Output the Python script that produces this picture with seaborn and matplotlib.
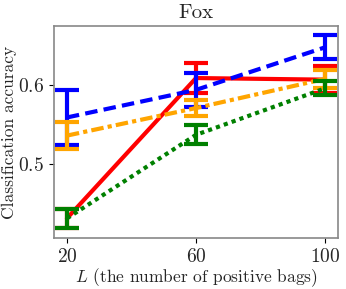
import numpy as np
import pandas as pd
import matplotlib
matplotlib.use('Agg')
import matplotlib.pyplot as plt
import seaborn as sns

# Values
bags = [20, 60, 100]
blue_mean = [0.559, 0.594, 0.648]
blue_err = [0.035, 0.022, 0.015]
orange_mean = [0.536, 0.571, 0.608]
orange_err = [0.017, 0.010, 0.011]
red_mean = [0.431, 0.609, 0.607]
red_err = [0.012, 0.019, 0.017]
green_mean = [0.431, 0.537, 0.596]
green_err = [0.012, 0.012, 0.009]

# drawing order follows the overlaps seen in the reference
series = [
    ('red', red_mean, red_err, 'red', '-'),
    ('blue', blue_mean, blue_err, 'blue', (0, (3, 1.5))),
    ('orange', orange_mean, orange_err, 'orange', (0, (3, 1, 1, 1))),
    ('green', green_mean, green_err, 'green', (0, (1, 1))),
]

sns.set_style('white')
plt.rcParams['font.family'] = ['cmr10', 'DejaVu Serif']
plt.rcParams['mathtext.fontset'] = 'cm'
plt.rcParams['axes.formatter.use_mathtext'] = True
plt.rcParams['axes.edgecolor'] = '#888888'

fig, ax = plt.subplots(figsize=(3.46, 2.89), dpi=100)

for name, mean, err, color, ls in series:
    df = pd.DataFrame({'L': bags, 'acc': mean})
    sns.lineplot(data=df, x='L', y='acc', color=color, linewidth=3, linestyle=ls, ax=ax)
    ax.errorbar(bags, mean, yerr=err, fmt='none', ecolor=color, elinewidth=3,
                capsize=8.5, capthick=3)

ax.set_xticks([20, 60, 100])
ax.set_yticks([0.5, 0.6])
ax.set_ylim(0.406, 0.675)
ax.tick_params(axis='both', which='both', bottom=True, left=True, labelsize=14,
               length=3.5, width=0.8, color='black')
for s in ax.spines.values():
    s.set_linewidth(1.2)
ax.set_title('Fox', fontsize=15)
ax.set_xlabel(r'$L$ (the number of positive bags)', fontsize=12.5, labelpad=0.5)
ax.set_ylabel('Classification accuracy', fontsize=12.5, labelpad=0.5)

fig.subplots_adjust(left=0.156, right=0.977, top=0.91, bottom=0.176)
fig.savefig('out.png', dpi=100)
